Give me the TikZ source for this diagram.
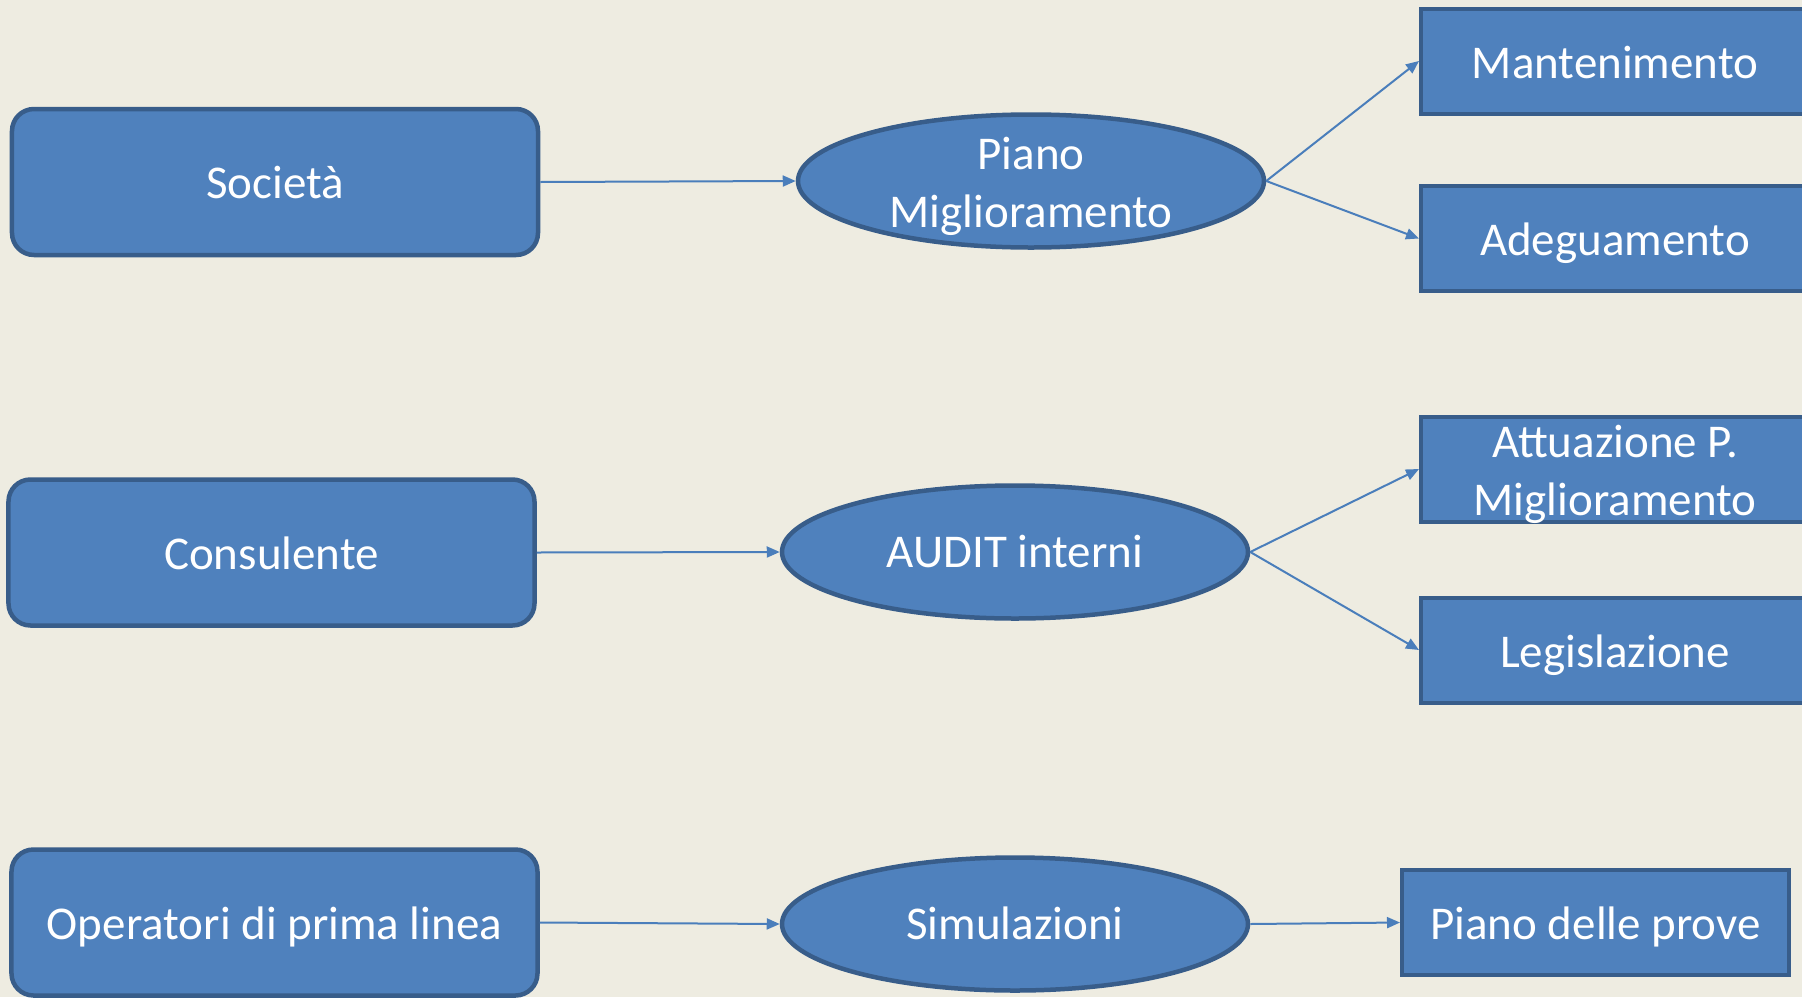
\documentclass[tikz,border=0pt]{standalone}
\usepackage{fontspec}
\setmainfont{Carlito}
\usetikzlibrary{shapes.geometric,arrows.meta}
\definecolor{bgtan}{HTML}{EEECE1}
\definecolor{fillb}{HTML}{4F81BD}
\definecolor{edgeb}{HTML}{385D8A}
\definecolor{linkb}{HTML}{4A7EBB}
\newcommand{\diagfont}{\fontsize{47bp}{58bp}\selectfont}
\begin{document}
\begin{tikzpicture}[x=1bp,y=-1bp,
  rbox/.style={draw=edgeb, fill=fillb, line width=4.5bp, rounded corners=22bp,
    minimum width=526bp, minimum height=146bp, inner sep=0pt, text=white, font=\diagfont,
    text height=33bp, text depth=0pt},
  sbox/.style={draw=edgeb, fill=fillb, line width=4bp, inner sep=0pt,
    minimum width=388bp, minimum height=105bp, text=white, font=\diagfont},
  oneline/.style={text height=34bp, text depth=0pt},
  ell/.style={ellipse, draw=edgeb, fill=fillb, line width=4.5bp, inner sep=0pt,
    minimum width=466bp, minimum height=133bp},
  txt/.style={text=white, font=\diagfont, align=center, inner sep=0pt},
  conn/.style={draw=linkb, line width=2bp, -{Triangle[length=13bp,width=11bp]}}
]
\fill[bgtan] (0,0) rectangle (1802,997);
\useasboundingbox (0,0) rectangle (1802,997);
\clip (0,0) rectangle (1802,997);

% left column
\node[rbox] (soc) at (275,182) {Società};
\node[rbox] (cons) at (271.5,552.5) {Consulente};
\node[rbox] (oper) at (274.5,922.5) {Operatori di prima linea};

% ellipses
\node[ell] (pm) at (1031,181) {};
\node[txt, yshift=-5bp] (pmt) at (pm) {Piano\\Miglioramento};
\node[ell] (aud) at (1015,552) {};
\node[txt, text height=30bp, text depth=0pt] (audt) at (aud) {AUDIT interni};
\node[ell] (sim) at (1015,924) {};
\node[txt, text height=30bp, text depth=0pt] (simt) at (sim) {Simulazioni};

% right column
\node[sbox, oneline] (mant) at (1615,61) {Mantenimento};
\node[sbox, oneline] (adeg) at (1615,238.5) {Adeguamento};
\node[sbox] (attu) at (1615,469) {};
\node[txt, yshift=-5bp] (attut) at (attu) {Attuazione P.\\Miglioramento};
\node[sbox, oneline] (legi) at (1615,650) {Legislazione};
\node[sbox, oneline, minimum width=387bp] (prove) at (1595.5,922.5) {Piano delle prove};

% connectors
\draw[conn] (soc.east) -- (pm.west);
\draw[conn] (cons.east) -- (aud.west);
\draw[conn] (oper.east) -- (sim.west);
\draw[conn] (pm.east) -- (mant.west);
\draw[conn] (pm.east) -- (adeg.west);
\draw[conn] (aud.east) -- (attu.west);
\draw[conn] (aud.east) -- (legi.west);
\draw[conn] (sim.east) -- (prove.west);
\end{tikzpicture}
\end{document}
